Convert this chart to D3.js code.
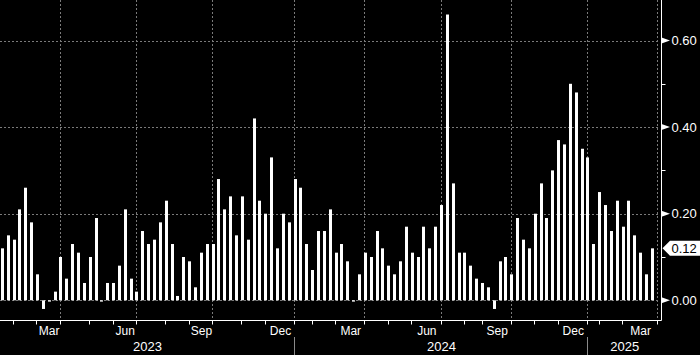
<!DOCTYPE html>
<html><head><meta charset="utf-8">
<script src="https://cdn.jsdelivr.net/npm/d3@7/dist/d3.min.js"></script>
<style>
html,body{margin:0;padding:0;background:#000;overflow:hidden}
svg{display:block}
text{font-family:"Liberation Sans",Arial,sans-serif}
</style>
</head><body>
<svg id="chart" width="700" height="355"></svg>
<script>
// weekly values, oldest first
const values = [
 0.12,0.15,0.14,0.21,0.26,0.18,0.06,-0.02,-0.003,0.02,
 0.10,0.05,0.13,0.11,0.04,0.10,0.19,-0.003,0.04,0.04,
 0.08,0.21,0.05,0.02,0.16,0.13,0.14,0.18,0.23,0.13,
 0.01,0.10,0.09,0.03,0.11,0.13,0.13,0.28,0.21,0.24,
 0.15,0.24,0.14,0.42,0.23,0.20,0.33,0.12,0.20,0.18,
 0.28,0.26,0.13,0.07,0.16,0.16,0.21,0.11,0.13,0.09,
 -0.003,0.06,0.11,0.10,0.16,0.12,0.08,0.06,0.09,0.17,
 0.11,0.10,0.17,0.12,0.17,0.22,0.66,0.27,0.11,0.11,
 0.08,0.05,0.04,0.03,-0.02,0.09,0.10,0.06,0.19,0.14,
 0.12,0.20,0.27,0.19,0.30,0.37,0.36,0.50,0.48,0.35,
 0.33,0.13,0.25,0.22,0.16,0.23,0.17,0.23,0.15,0.11,
 0.06,0.12
];
// month names and the bar number (1-based) where each month begins
const monthNames = ["Feb","Mar","Apr","May","Jun","Jul","Aug","Sep","Oct","Nov","Dec",
                    "Jan","Feb","Mar","Apr","May","Jun","Jul","Aug","Sep","Oct","Nov","Dec",
                    "Jan","Feb","Mar","Apr"];
const monthStart = [3,7,11,16,20,24,29,33,37,42,46,
                    51,54,58,63,67,71,76,80,83,88,92,96,
                    101,103,107,113];
const labelledMonths = ["Mar","Jun","Sep","Dec"];
const yearNames = ["2023","2024","2025"];
const yearStart = [null,51,101];
const yTicks = [0,0.2,0.4,0.6];
const yMinorTicks = [0.1,0.3,0.5];
const lastLabel = "0.12";

const W = 700, H = 355;
const axisX = 661.5, axisY = 320.5;
const svg = d3.select("#chart");
svg.append("rect").attr("width",W).attr("height",H).attr("fill","#000");

const x = d3.scaleLinear().domain([1,113]).range([2.3,658.2]);
const y = d3.scaleLinear().domain([0,0.6]).range([300.3,40.5]);
const crisp = v => Math.round(v) + 0.5;
const gridColor = "#7a7a7a";

// horizontal gridlines
svg.append("g").selectAll("line").data(yTicks).join("line")
  .attr("x1",0).attr("x2",axisX-2)
  .attr("y1",d=>crisp(y(d))).attr("y2",d=>crisp(y(d)))
  .attr("stroke",gridColor).attr("stroke-width",1).attr("stroke-dasharray","2,2");

// vertical gridlines at the start of the month after each labelled month
const months = monthNames.map((m,i)=>({name:m, start:monthStart[i], next:monthStart[i+1]}));
const gridMonths = months.filter((m,i)=> i>0 && labelledMonths.includes(months[i-1].name));
svg.append("g").selectAll("line").data(gridMonths).join("line")
  .attr("x1",d=>crisp(x(d.start))-1).attr("x2",d=>crisp(x(d.start))-1)
  .attr("y1",0).attr("y2",axisY)
  .attr("stroke",gridColor).attr("stroke-width",1).attr("stroke-dasharray","2,2");

// bars
svg.append("g").selectAll("rect").data(values).join("rect")
  .attr("x",(d,i)=>Math.round(x(i+1)-1.5))
  .attr("width",3)
  .attr("y",d=>y(Math.max(d,0)))
  .attr("height",d=>Math.max(1,Math.abs(y(d)-y(0))))
  .attr("fill","#fff");

// axes lines
svg.append("line").attr("x1",0).attr("x2",axisX).attr("y1",axisY).attr("y2",axisY)
  .attr("stroke","#fff").attr("stroke-width",1);
svg.append("line").attr("x1",axisX).attr("x2",axisX).attr("y1",0).attr("y2",axisY)
  .attr("stroke","#fff").attr("stroke-width",1);

// x ticks at every month start
svg.append("g").selectAll("line").data(months).join("line")
  .attr("x1",d=>crisp(x(d.start))-1).attr("x2",d=>crisp(x(d.start))-1)
  .attr("y1",axisY).attr("y2",axisY+4)
  .attr("stroke","#fff").attr("stroke-width",1);

// month labels centred within the month
svg.append("g").selectAll("text")
  .data(months.filter(m=>labelledMonths.includes(m.name) && m.next!==undefined))
  .join("text")
  .attr("x",d=>(x(d.start)+x(d.next))/2).attr("y",335)
  .attr("text-anchor","middle").attr("fill","#fff").attr("font-size",12)
  .text(d=>d.name);

// year separators and labels
const yearBounds = yearNames.map((yn,i)=>({
  name:yn,
  left: yearStart[i]===null ? 0 : x(yearStart[i]),
  right: i+1<yearNames.length ? x(yearStart[i+1]) : axisX
}));
svg.append("g").selectAll("line").data(yearStart.filter(s=>s!==null)).join("line")
  .attr("x1",d=>crisp(x(d))-1).attr("x2",d=>crisp(x(d))-1)
  .attr("y1",337).attr("y2",H)
  .attr("stroke","#8a8a8a").attr("stroke-width",1);
svg.append("g").selectAll("text").data(yearBounds).join("text")
  .attr("x",d=>(d.left+d.right)/2).attr("y",351)
  .attr("text-anchor","middle").attr("fill","#fff").attr("font-size",13)
  .text(d=>d.name);

// y axis ticks: arrow markers + labels
const fmt = d3.format(".2f");
svg.append("g").selectAll("path").data(yTicks).join("path")
  .attr("d",d=>{const yy=y(d);return `M${axisX},${yy-3}L${axisX+8.5},${yy}L${axisX},${yy+3}Z`;})
  .attr("fill","#fff");
svg.append("g").selectAll("text").data(yTicks).join("text")
  .attr("x",671.5).attr("y",d=>y(d)).attr("dy","0.36em")
  .attr("fill","#fff").attr("font-size",13)
  .text(d=>fmt(d));
svg.append("g").selectAll("line").data(yMinorTicks).join("line")
  .attr("x1",axisX).attr("x2",axisX+4)
  .attr("y1",d=>crisp(y(d))).attr("y2",d=>crisp(y(d)))
  .attr("stroke","#fff").attr("stroke-width",1);

// last value tag
const lastV = values[values.length-1];
const ty = y(+lastLabel);
svg.append("path")
  .attr("d",`M${axisX+1},${ty}L${axisX+8.5},${ty-7.5}L${W},${ty-7.5}L${W},${ty+7.5}L${axisX+8.5},${ty+7.5}Z`)
  .attr("fill","#fff");
svg.append("text").attr("x",671.5).attr("y",ty).attr("dy","0.36em")
  .attr("fill","#000").attr("font-size",13).text(lastLabel);
</script>
</body></html>
